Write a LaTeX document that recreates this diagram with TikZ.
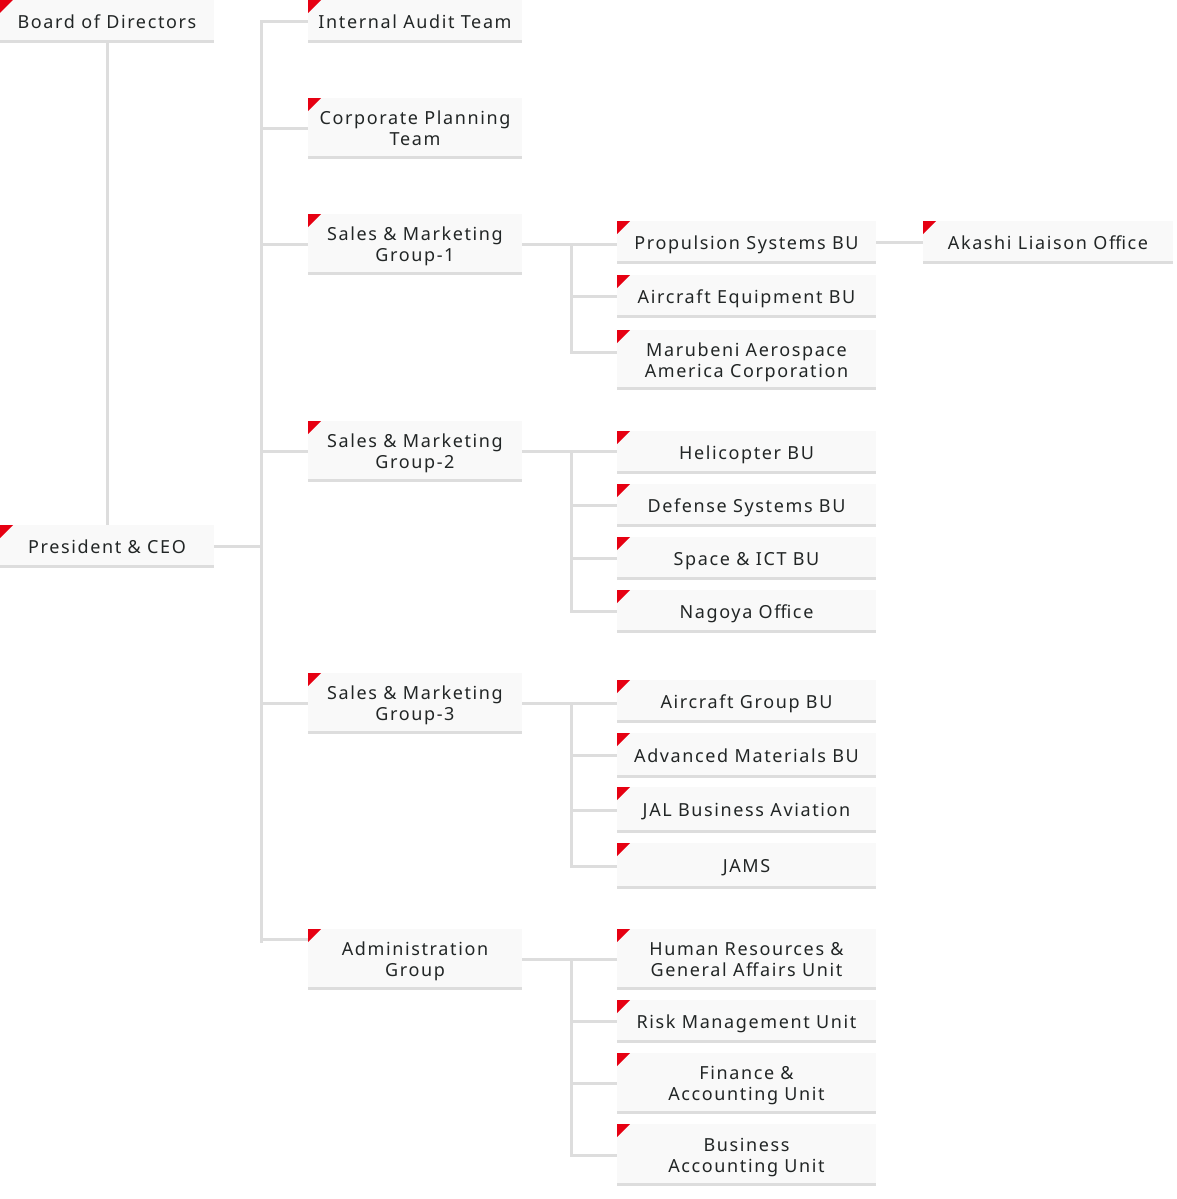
\documentclass[tikz,border=0pt]{standalone}
\usepackage{fontspec}
\setmainfont{Noto Sans}[LetterSpace=9]
\usetikzlibrary{calc,backgrounds}
\definecolor{accent}{HTML}{E60012}
\definecolor{boxfill}{HTML}{F9F9F9}
\definecolor{rulegray}{HTML}{DDDDDD}
\definecolor{ink}{HTML}{222626}
\tikzset{
  orgbox/.style={anchor=north west, inner sep=0pt, outer sep=0pt, fill=boxfill,
    path picture={
      \fill[accent] (path picture bounding box.north west) -- ++(13pt,0pt) -- ++(-13pt,-13pt) -- cycle;
      \fill[rulegray] (path picture bounding box.south west) rectangle ([yshift=3pt]path picture bounding box.south east);
    }},
  orgtext/.style={anchor=center, inner sep=0pt, text=ink, font=\fontsize{18}{21}\selectfont},
  conn/.style={draw=rulegray, line width=3pt, line cap=rect}
}
% name, x, y, width, fill height, text
\newcommand\orgnode[6]{%
  \node[orgbox, minimum width=#4pt, minimum height=#5pt+3pt] (#1) at (#2,#3) {};
  \node[orgtext] (#1-t) at ([yshift=-2.5pt]#1.center) {\begin{tabular}{@{}c@{}}#6\end{tabular}};}
\begin{document}
\begin{tikzpicture}[x=1pt,y=-1pt]
\useasboundingbox (0,0) rectangle (1176,1199);
% column 1
\orgnode{bod}{0}{0}{214}{40}{Board of Directors}
\orgnode{ceo}{0}{525}{214}{40}{President \& CEO}
% column 2
\orgnode{ia}{308}{0}{214}{40}{Internal Audit Team}
\orgnode{cp}{308}{98}{214}{58}{Corporate Planning\\Team}
\orgnode{ga}{308}{214}{214}{58}{Sales \& Marketing\\Group-1}
\orgnode{gb}{308}{421}{214}{58}{Sales \& Marketing\\Group-2}
\orgnode{gc}{308}{673}{214}{58}{Sales \& Marketing\\Group-3}
\orgnode{adm}{308}{929}{214}{58}{Administration\\Group}
% column 3
\orgnode{ps}{617}{221}{259}{40}{Propulsion Systems BU}
\orgnode{ae}{617}{275}{259}{40}{Aircraft Equipment BU}
\orgnode{maa}{617}{330}{259}{57}{Marubeni Aerospace\\America Corporation}
\orgnode{heli}{617}{431}{259}{40}{Helicopter BU}
\orgnode{dsb}{617}{484}{259}{40}{Defense Systems BU}
\orgnode{sict}{617}{537}{259}{40}{Space \& ICT BU}
\orgnode{nag}{617}{590}{259}{40}{Nagoya Office}
\orgnode{agb}{617}{680}{259}{40}{Aircraft Group BU}
\orgnode{amb}{617}{733}{259}{42}{Advanced Materials BU}
\orgnode{jal}{617}{787}{259}{43}{JAL Business Aviation}
\orgnode{jams}{617}{843}{259}{43}{JAMS}
\orgnode{hr}{617}{929}{259}{58}{Human Resources \&\\General Affairs Unit}
\orgnode{risk}{617}{1000}{259}{40}{Risk Management Unit}
\orgnode{fin}{617}{1053}{259}{58}{Finance \&\\Accounting Unit}
\orgnode{bau}{617}{1124}{259}{59}{Business\\Accounting Unit}
% column 4
\orgnode{ak}{923}{221}{250}{40}{Akashi Liaison Office}
% connector anchor points
\coordinate (spT) at (261,22);
\coordinate (spB) at (261,941);
\coordinate (cx) at (571,0);
\coordinate (maaJ) at ([yshift=-22pt]maa.north west);
\begin{scope}[on background layer]
\draw[conn] (bod.south) -- (ceo.north);
\draw[conn] (ceo.east) -- (ceo.east -| spT);
\draw[conn] (spT) -- (spB);
\draw[conn] (spT) -- (spT -| ia.west);
\foreach \n in {cp,ga,gb,gc} {\draw[conn] (\n.west -| spT) -- (\n.west);}
\draw[conn] ([yshift=-10pt]adm.north west -| spT) -- ([yshift=-10pt]adm.north west);
% group 1
\draw[conn] (ga.east) -- (ga.east -| ps.west);
\draw[conn] (ga.east -| cx) -- (maaJ -| cx);
\draw[conn] (ae.west -| cx) -- (ae.west);
\draw[conn] (maaJ -| cx) -- (maaJ);
\draw[conn] (ps.east) -- (ps.east -| ak.west);
% group 2
\draw[conn] (gb.east) -- (gb.east -| heli.west);
\draw[conn] (gb.east -| cx) -- (nag.west -| cx);
\foreach \n in {dsb,sict,nag} {\draw[conn] (\n.west -| cx) -- (\n.west);}
% group 3
\draw[conn] (gc.east) -- (gc.east -| agb.west);
\draw[conn] (gc.east -| cx) -- (jams.west -| cx);
\foreach \n in {amb,jal,jams} {\draw[conn] (\n.west -| cx) -- (\n.west);}
% administration
\draw[conn] (adm.east) -- (adm.east -| hr.west);
\draw[conn] (adm.east -| cx) -- (bau.west -| cx);
\foreach \n in {risk,fin,bau} {\draw[conn] (\n.west -| cx) -- (\n.west);}
\end{scope}
\end{tikzpicture}
\end{document}
